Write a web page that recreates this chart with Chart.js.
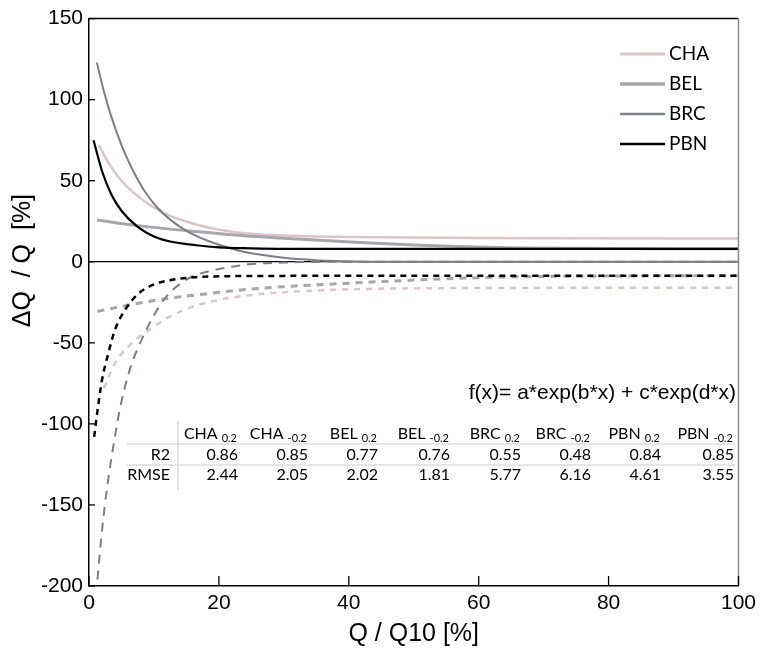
<!DOCTYPE html>
<html>
<head>
<meta charset="utf-8">
<script src="https://cdn.jsdelivr.net/npm/chart.js@4.4.1/dist/chart.umd.min.js"></script>
<style>
  html, body { margin: 0; padding: 0; background: #fff; }
</style>
</head>
<body>
<canvas id="myChart" width="761" height="654"></canvas>
<script>
// axis ticks
const xTickValues = [0, 20, 40, 60, 80, 100];
const yTickValues = [-200, -150, -100, -50, 0, 50, 100, 150];

// sites and colours
const sites = ['CHA', 'BEL', 'BRC', 'PBN'];
const siteColors = ['#dbc5c6', '#a8a6ad', '#7c7f86', '#000000'];

// positive curves (solid)
const chaPosX = [1.5, 3, 5, 7.5, 10, 12.5, 16.5, 20, 25, 30, 40, 60, 100];
const chaPosY = [72, 61, 50, 40.5, 33.5, 28.3, 23, 19.8, 17.3, 16.2, 15.3, 14.6, 14.3];
const belPosX = [1.2, 7.5, 16.5, 24, 30, 41, 50, 63, 80, 100];
const belPosY = [25.8, 22.3, 18.6, 16, 14.5, 12, 10.3, 8.8, 8.2, 8];
const brcPosX = [1.2, 2.3, 3.4, 5, 6.5, 8.5, 10.5, 12.5, 15, 17, 20, 24, 30, 35, 41, 50, 100];
const brcPosY = [123, 105, 90, 72, 58.5, 44, 33.5, 26, 19, 15, 10.5, 6, 2.5, 1, 0.2, 0, 0];
const pbnPosX = [0.7, 2, 3.5, 5, 7.5, 10, 12.5, 16.5, 20, 25, 30, 100];
const pbnPosY = [75, 56, 41, 31.5, 21.5, 15.6, 12.5, 10.2, 8.9, 8.3, 8, 8];

// negative curves (dashed)
const chaNegX = [2.3, 4, 6, 8, 10, 12.5, 16.5, 20, 25, 30, 40, 60, 100];
const chaNegY = [-78, -62.5, -52.5, -45.5, -40, -33.6, -27, -23.5, -20.5, -18.8, -17, -16.2, -16];
const belNegX = [1.3, 6.5, 11.5, 16.5, 24.5, 41, 63, 80, 100];
const belNegY = [-30.6, -26.4, -23, -20.5, -17, -13, -9.5, -8.8, -8.6];
const brcNegX = [1.3, 2, 2.8, 3.9, 4.9, 6.4, 8, 10, 12, 15, 16.6, 20, 24.6, 30, 41, 100];
const brcNegY = [-196, -166, -139, -110, -88, -65, -49, -33, -21, -11, -8, -4.5, -1.6, -0.5, 0, 0];
const pbnNegX = [0.8, 1.3, 2, 3, 4, 5.5, 7.5, 10, 13, 16, 20, 30, 100];
const pbnNegY = [-108, -92, -73, -56, -42, -30, -20, -14, -11, -9.6, -9, -8.7, -8.6];

// fit table
const tableSites = ['CHA', 'CHA', 'BEL', 'BEL', 'BRC', 'BRC', 'PBN', 'PBN'];
const tableSubs = ['0.2', '-0.2', '0.2', '-0.2', '0.2', '-0.2', '0.2', '-0.2'];
const r2Values = ['0.86', '0.85', '0.77', '0.76', '0.55', '0.48', '0.84', '0.85'];
const rmseValues = ['2.44', '2.05', '2.02', '1.81', '5.77', '6.16', '4.61', '3.55'];
const equationText = 'f(x)= a*exp(b*x) + c*exp(d*x)';

function pts(xs, ys) {
  return xs.map((x, i) => ({ x: x, y: ys[i] }));
}

const posData = [pts(chaPosX, chaPosY), pts(belPosX, belPosY), pts(brcPosX, brcPosY), pts(pbnPosX, pbnPosY)];
const negData = [pts(chaNegX, chaNegY), pts(belNegX, belNegY), pts(brcNegX, brcNegY), pts(pbnNegX, pbnNegY)];
const solidWidths = [2.5, 3, 2, 2.2];
const dashWidths = [2.5, 3, 2, 2.5];
const dashStyles = [[6, 6], [7, 6], [9, 7], [6, 5]];
const drawOrder = [3, 2, 1, 0];

const datasets = [];
sites.forEach((s, i) => {
  datasets.push({
    label: s,
    data: posData[i],
    borderColor: siteColors[i],
    borderWidth: solidWidths[i],
    pointRadius: 0,
    cubicInterpolationMode: 'monotone',
    order: drawOrder[i]
  });
  datasets.push({
    label: s + ' neg',
    data: negData[i],
    borderColor: siteColors[i],
    borderWidth: dashWidths[i],
    borderDash: dashStyles[i],
    pointRadius: 0,
    cubicInterpolationMode: 'monotone',
    order: drawOrder[i] + 4,
    dashed: true
  });
});

const decor = {
  id: 'decor',
  afterDatasetsDraw(chart) {
    const { ctx, chartArea: a, scales: { x, y } } = chart;
    const line = (x1, y1, x2, y2) => { ctx.beginPath(); ctx.moveTo(x1, y1); ctx.lineTo(x2, y2); ctx.stroke(); };
    ctx.save();

    // frame top and right
    ctx.lineWidth = 1.5;
    ctx.strokeStyle = '#000';
    line(a.left, a.top, a.right, a.top);
    ctx.strokeStyle = '#8a8a8a';
    line(a.right, a.top, a.right, a.bottom);

    // inward ticks
    ctx.strokeStyle = '#000';
    ctx.lineWidth = 1.3;
    yTickValues.forEach(v => { const py = y.getPixelForValue(v); line(a.left, py, a.left + 6, py); });
    xTickValues.forEach(v => { const px = x.getPixelForValue(v); line(px, a.bottom, px, a.bottom - 10); });

    // legend (solid lines only)
    ctx.font = '19px Lato';
    ctx.textBaseline = 'middle';
    ctx.textAlign = 'left';
    ctx.fillStyle = '#000';
    chart.data.datasets.filter(d => !d.dashed).forEach((d, i) => {
      const ly = 54 + i * 30;
      ctx.strokeStyle = d.borderColor;
      ctx.lineWidth = d.borderWidth + 0.5;
      line(620, ly, 665, ly);
      ctx.fillText(d.label, 669, ly);
    });

    // equation
    ctx.font = '21px "Liberation Sans", Arial';
    ctx.textAlign = 'right';
    ctx.fillText(equationText, 736, 393);

    // table grid
    ctx.strokeStyle = '#dcdcdc';
    ctx.lineWidth = 1.5;
    line(127, 444, 735, 444);
    line(127, 465, 735, 465);
    line(178, 421, 178, 490);

    // table text
    const colRight = [238, 308, 378, 450, 521, 591, 661, 734];
    ctx.textBaseline = 'alphabetic';
    ctx.fillStyle = '#000';
    ctx.font = '16px Lato';
    ctx.textAlign = 'right';
    ctx.fillText('R2', 170, 460);
    ctx.fillText('RMSE', 170, 480);
    tableSites.forEach((s, i) => {
      const r = colRight[i];
      ctx.font = '11px Lato';
      const subW = ctx.measureText(tableSubs[i]).width;
      ctx.textAlign = 'right';
      ctx.fillText(tableSubs[i], r - 1, 442);
      ctx.font = '16px Lato';
      ctx.fillText(s, r - 1 - subW - 4, 439);
      ctx.fillText(r2Values[i], r, 460);
      ctx.fillText(rmseValues[i], r, 480);
    });

    ctx.restore();
  }
};

const ctx = document.getElementById('myChart').getContext('2d');
new Chart(ctx, {
  type: 'line',
  data: { datasets: datasets },
  options: {
    responsive: false,
    animation: false,
    layout: { padding: { left: 0, top: 17, right: 19, bottom: 0 } },
    plugins: { legend: { display: false }, tooltip: { enabled: false } },
    scales: {
      x: {
        type: 'linear',
        min: 0,
        max: 100,
        afterBuildTicks: s => { s.ticks = xTickValues.map(v => ({ value: v })); },
        afterFit: s => { s.height = 68; },
        grid: { display: false, drawTicks: false },
        border: { display: true, color: '#000', width: 1.5 },
        ticks: { color: '#000', padding: 5, maxRotation: 0, font: { family: '"Liberation Sans", Arial', size: 21 } },
        title: {
          display: true,
          text: 'Q / Q10 [%]',
          color: '#000',
          padding: { top: 0, bottom: 5 },
          font: { family: '"Liberation Sans", Arial', size: 25 }
        }
      },
      y: {
        type: 'linear',
        min: -200,
        max: 150,
        afterBuildTicks: s => { s.ticks = yTickValues.map(v => ({ value: v })); },
        afterFit: s => { s.width = 89; },
        grid: {
          drawTicks: false,
          color: c => (c.tick && c.tick.value === 0 ? '#000' : 'rgba(0,0,0,0)'),
          lineWidth: 1.3
        },
        border: { display: true, color: '#000', width: 1.5 },
        ticks: { color: '#000', padding: 6, font: { family: '"Liberation Sans", Arial', size: 21 } },
        title: {
          display: true,
          text: '\u00A0\u00A0\u00A0\u00A0\u00A0\u00A0\u00A0\u00A0\u00A0\u00A0\u00A0\u00A0ΔQ  / Q  [%]',
          color: '#000',
          padding: { top: 8, bottom: 0 },
          font: { family: '"Liberation Sans", Arial', size: 25 }
        }
      }
    }
  },
  plugins: [decor]
});
</script>
</body>
</html>
